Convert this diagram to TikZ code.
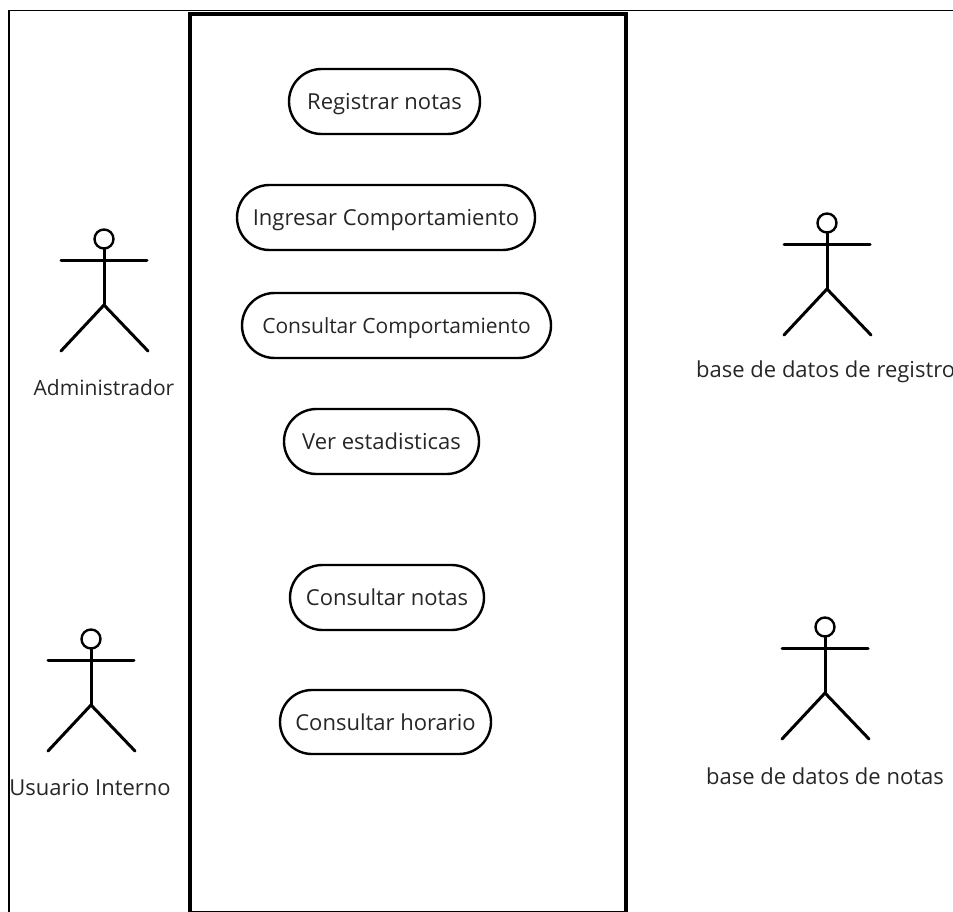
\documentclass[tikz,border=0pt]{standalone}
\usepackage{fontspec}
\setmainfont{Open Sans}
\usetikzlibrary{shapes.misc}
\tikzset{
  usecase/.style={draw=black,line width=2.4pt,rounded rectangle,inner sep=0pt,text depth=0pt,font=\fontsize{22}{24}\selectfont,text=black!85},
  label/.style={inner sep=0pt,font=\fontsize{22}{24}\selectfont,text=black!85},
  head/.style={draw=black,circle,line width=2.4pt,minimum size=19pt,inner sep=0pt},
  limb/.style={line width=3pt,line cap=round},
  pics/actor/.style={code={
    \node[head] (-h) at (0,0) {};
    \coordinate (-al) at (-43,21);
    \coordinate (-ar) at (43,21);
    \coordinate (-hip) at (0,66);
    \coordinate (-fl) at (-43,112);
    \coordinate (-fr) at (44,112);
    \draw[limb] (-al) -- (-ar);
    \draw[limb] (-h.south) -- (-hip);
    \draw[limb] (-fl) -- (-hip) -- (-fr);
  }}
}
\begin{document}
\begin{tikzpicture}[x=1pt,y=-1pt]
\useasboundingbox (0,0) rectangle (953,912);
\clip (0,0) rectangle (953,912);
\coordinate (ftl) at (9,10.5);
\coordinate (ftr) at (953,10.5);
\coordinate (fbl) at (9,912);
\draw[line width=1.1pt] (fbl) -- (ftl) -- (ftr);
\node[draw=black,line width=4.8pt,minimum width=436pt,minimum height=899.5pt,inner sep=0pt] (sys) at (408,463.75) {};
\node[usecase,minimum width=191pt,minimum height=65pt] (uc1) at (384.5,101.5) {Registrar notas};
\node[usecase,minimum width=298pt,minimum height=65pt] (uc2) at (386,217.5) {Ingresar Comportamiento};
\node[usecase,minimum width=309pt,minimum height=65pt,font=\fontsize{21}{24}\selectfont] (uc3) at (396.5,325.5) {Consultar Comportamiento\hspace{9pt}};
\node[usecase,minimum width=195pt,minimum height=65pt] (uc4) at (381.5,441.5) {Ver estadisticas};
\node[usecase,minimum width=194pt,minimum height=65pt] (uc5) at (387,597.5) {Consultar notas};
\node[usecase,minimum width=211pt,minimum height=64pt] (uc6) at (385.5,722) {Consultar horario};
\pic (a1) at (104,239) {actor};
\pic (a2) at (91,639) {actor};
\pic (a3) at (827,223) {actor};
\pic (a4) at (825,627) {actor};
\node[label,font=\fontsize{21}{24}\selectfont] (l1) at (104,388) {Administrador};
\node[label] (l2) at (90,788) {Usuario Interno};
\node[label,anchor=west] (l3) at (696,372) {base de datos de registro};
\node[label] (l4) at (825,776) {base de datos de notas};
\end{tikzpicture}
\end{document}
